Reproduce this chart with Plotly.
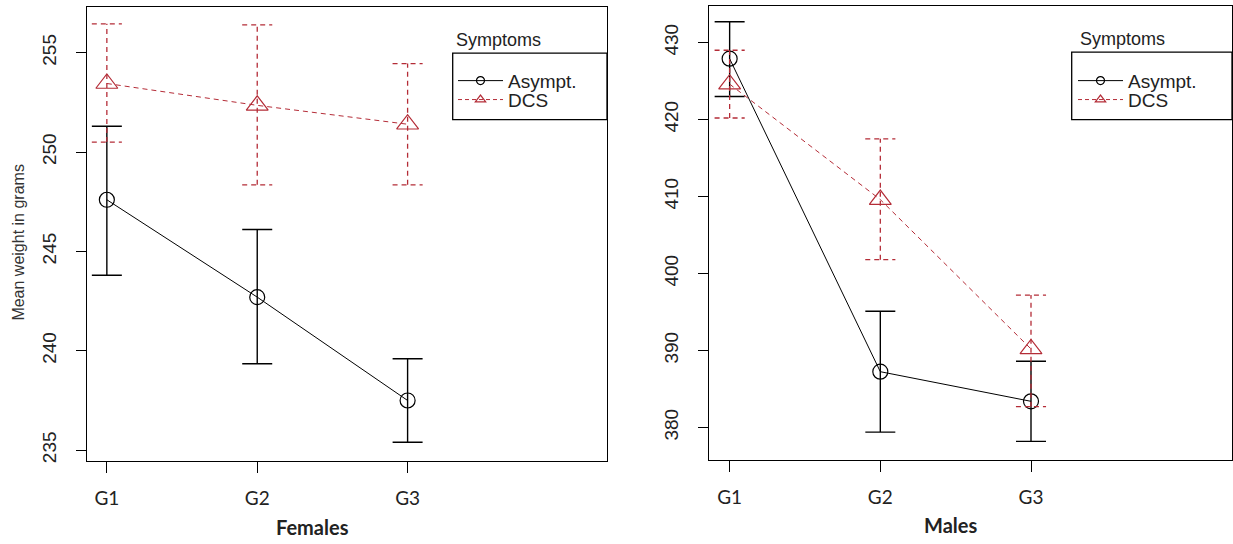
import plotly.graph_objects as go

# ---------------- data ----------------
groups = ["G1", "G2", "G3"]

female_asympt = [247.6, 242.7, 237.5]
female_asympt_hi = [251.3, 246.1, 239.6]
female_asympt_lo = [243.8, 239.35, 235.4]
female_dcs = [253.45, 252.35, 251.4]
female_dcs_hi = [256.45, 256.4, 254.45]
female_dcs_lo = [250.5, 248.35, 248.35]

male_asympt = [427.9, 387.25, 383.4]
male_asympt_hi = [432.7, 395.1, 388.6]
male_asympt_lo = [423.0, 379.4, 378.2]
male_dcs = [424.6, 409.6, 390.2]
male_dcs_hi = [429.0, 417.5, 397.2]
male_dcs_lo = [420.2, 401.8, 382.7]

female_ticks = [235, 240, 245, 250, 255]
male_ticks = [380, 390, 400, 410, 420, 430]
series_names = ["Asympt.", "DCS"]
legend_title = "Symptoms"
panel_titles = ["Females", "Males"]
y_title = "Mean weight in grams"

# ---------------- style ----------------
W, H = 1233, 544
RED = "#B42C37"
CAP = 0.1  # half-width of error-bar caps, in category units
AX_FONT = "Liberation Sans, Arial, sans-serif"
LBL_FONT = "Lato, Calibri, sans-serif"


def px(x):
    return x / W


def py(y):
    return 1 - y / H


fig = go.Figure()


def add_panel(xa, ya, asym, ahi, alo, dcs, dhi, dlo):
    xs = list(range(1, len(groups) + 1))
    fig.add_trace(go.Scatter(
        x=xs, y=asym, xaxis=xa, yaxis=ya, mode="lines+markers",
        line=dict(color="black", width=1),
        marker=dict(symbol="circle-open", size=15, color="black", line=dict(width=1.2)),
        error_y=dict(type="data", symmetric=False,
                     array=[h - v for h, v in zip(ahi, asym)],
                     arrayminus=[v - l for v, l in zip(asym, alo)],
                     color="black", thickness=1.4, width=15),
        showlegend=False, hoverinfo="skip"))
    ex, ey = [], []
    for x, h, l in zip(xs, dhi, dlo):
        ex += [x, x, None, x - CAP, x + CAP, None, x - CAP, x + CAP, None]
        ey += [l, h, None, h, h, None, l, l, None]
    fig.add_trace(go.Scatter(
        x=ex, y=ey, xaxis=xa, yaxis=ya, mode="lines",
        line=dict(color=RED, width=1.3, dash="5px,4px"),
        showlegend=False, hoverinfo="skip"))
    fig.add_trace(go.Scatter(
        x=xs, y=dcs, xaxis=xa, yaxis=ya, mode="lines+markers",
        line=dict(color=RED, width=1, dash="5px,4px"),
        marker=dict(symbol="triangle-up-open", size=19, color=RED, line=dict(width=1.2)),
        showlegend=False, hoverinfo="skip"))


add_panel("x", "y", female_asympt, female_asympt_hi, female_asympt_lo,
          female_dcs, female_dcs_hi, female_dcs_lo)
add_panel("x2", "y2", male_asympt, male_asympt_hi, male_asympt_lo,
          male_dcs, male_dcs_hi, male_dcs_lo)

# legend entries (one legend per entry so the row spacing can match)
for leg_a, leg_d, xa, ya in [("legend", "legend3", "x", "y"), ("legend2", "legend4", "x2", "y2")]:
    fig.add_trace(go.Scatter(
        x=[None], y=[None], xaxis=xa, yaxis=ya, mode="lines+markers", name=series_names[0],
        line=dict(color="black", width=1),
        marker=dict(symbol="circle-open", size=8, color="black", line=dict(width=1.2)),
        legend=leg_a))
    fig.add_trace(go.Scatter(
        x=[None], y=[None], xaxis=xa, yaxis=ya, mode="lines+markers", name=series_names[1],
        line=dict(color=RED, width=1, dash="4px,3px"),
        marker=dict(symbol="triangle-up-open", size=9, color=RED, line=dict(width=1.2)),
        legend=leg_d))

common_x = dict(tickvals=[1, 2, 3], ticktext=groups, ticks="outside", ticklen=11,
                tickwidth=1.3, tickcolor="black", showline=True, mirror=True,
                linecolor="black", linewidth=1.3, showgrid=False, zeroline=False,
                tickfont=dict(family=LBL_FONT, size=19, color="#222"),
                ticklabelstandoff=9, fixedrange=True)
common_y = dict(ticks="outside", ticklen=10, tickwidth=1.3, tickcolor="black",
                showline=True, mirror=True, linecolor="black", linewidth=1.3,
                showgrid=False, zeroline=False, tickangle=-90,
                tickfont=dict(family=AX_FONT, size=19, color="#222"),
                ticklabelstandoff=12, fixedrange=True)

legend_common = dict(xanchor="left", yanchor="top", bgcolor="rgba(0,0,0,0)",
                     borderwidth=0, font=dict(family=AX_FONT, size=19, color="#222"),
                     itemwidth=45, tracegroupgap=0, itemclick=False, itemdoubleclick=False)

fig.update_layout(
    width=W, height=H, margin=dict(l=0, r=0, t=0, b=0),
    paper_bgcolor="white", plot_bgcolor="white",
    xaxis=dict(domain=[px(87), px(607)], range=[0.868, 4.326], anchor="y", **common_x),
    yaxis=dict(domain=[py(463), py(7)], range=[234.44, 257.30], anchor="x",
               tickvals=female_ticks, **common_y),
    xaxis2=dict(domain=[px(709), px(1232)], range=[0.863, 4.334], anchor="y2", **common_x),
    yaxis2=dict(domain=[py(462), py(6)], range=[375.74, 434.75], anchor="x2",
                tickvals=male_ticks, **common_y),
    legend=dict(x=px(453), y=py(62), **legend_common),
    legend3=dict(x=px(453), y=py(81), **legend_common),
    legend2=dict(x=px(1073), y=py(62), **legend_common),
    legend4=dict(x=px(1073), y=py(81), **legend_common),
    shapes=[
        dict(type="rect", xref="paper", yref="paper", x0=px(452.7), x1=px(607),
             y0=py(120), y1=py(53.3), line=dict(color="black", width=1.3)),
        dict(type="rect", xref="paper", yref="paper", x0=px(1071.7), x1=px(1232),
             y0=py(120), y1=py(52.3), line=dict(color="black", width=1.3)),
    ],
    annotations=[
        dict(text=legend_title, xref="paper", yref="paper", x=px(454), y=py(40),
             xanchor="left", yanchor="middle", showarrow=False,
             font=dict(family=AX_FONT, size=18, color="#222")),
        dict(text=legend_title, xref="paper", yref="paper", x=px(1078), y=py(39),
             xanchor="left", yanchor="middle", showarrow=False,
             font=dict(family=AX_FONT, size=18, color="#222")),
        dict(text="<b>%s</b>" % panel_titles[0], xref="paper", yref="paper", x=px(312), y=py(529),
             xanchor="center", yanchor="middle", showarrow=False,
             font=dict(family=LBL_FONT, size=20, color="#222")),
        dict(text="<b>%s</b>" % panel_titles[1], xref="paper", yref="paper", x=px(950), y=py(527),
             xanchor="center", yanchor="middle", showarrow=False,
             font=dict(family=LBL_FONT, size=20, color="#222")),
        dict(text=y_title, xref="paper", yref="paper", x=px(19), y=py(243.5),
             xanchor="center", yanchor="middle", showarrow=False, textangle=-90,
             font=dict(family=AX_FONT, size=16, color="#333")),
    ],
)

fig.write_html("out.html")
